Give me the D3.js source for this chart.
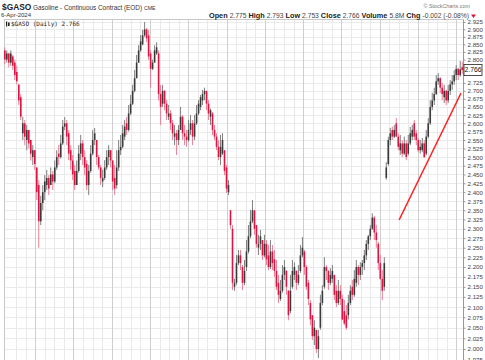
<!DOCTYPE html>
<html><head><meta charset="utf-8">
<script src="https://cdn.jsdelivr.net/npm/d3@7"></script>
<style>body{margin:0;background:#fff}svg{display:block}</style>
</head><body>
<svg id="c" width="485" height="360"></svg>
<script>
const symbol = "$GASO";
const titleText = "Gasoline - Continuous Contract (EOD)";
const exchange = "CME";
const dateText = "6-Apr-2024";
const legendText = "$GASO (Daily) 2.766";
const lastPrice = 2.766;
const quoteLabels = ["Open","High","Low","Close","Volume","Chg"];
const quoteValues = ["2.775","2.793","2.753","2.766","5.8M","-0.002 (-0.08%)"];

const opens = [
2.83,2.80,2.82,2.79,2.81,2.79,2.76,2.72,2.68,2.57,
2.60,2.55,2.58,2.55,2.50,2.52,2.47,2.42,2.32,2.37,
2.40,2.42,2.44,2.42,2.45,2.43,2.47,2.51,2.50,2.54,
2.59,2.60,2.57,2.52,2.49,2.46,2.42,2.46,2.51,2.54,
2.50,2.48,2.42,2.46,2.51,2.55,2.55,2.50,2.47,2.43,
2.44,2.47,2.50,2.52,2.49,2.44,2.42,2.47,2.52,2.53,
2.56,2.60,2.58,2.63,2.66,2.70,2.74,2.79,2.83,2.85,
2.88,2.90,2.88,2.82,2.77,2.79,2.82,2.82,2.69,2.66,
2.70,2.66,2.62,2.63,2.60,2.56,2.57,2.55,2.58,2.62,
2.57,2.56,2.55,2.58,2.60,2.56,2.60,2.63,2.65,2.67,
2.69,2.70,2.66,2.62,2.63,2.58,2.56,2.53,2.50,2.51,
2.52,2.47,2.40,2.35,2.30,2.15,2.16,2.21,2.23,2.20,
2.16,2.20,2.24,2.28,2.32,2.35,2.31,2.25,2.26,2.27,
2.23,2.26,2.23,2.20,2.24,2.22,2.19,2.16,2.12,2.14,
2.18,2.19,2.14,2.09,2.15,2.18,2.19,2.16,2.19,2.23,
2.24,2.20,2.16,2.11,2.08,2.03,2.045,2.00,2.05,2.11,
2.15,2.20,2.19,2.16,2.17,2.18,2.14,2.11,2.14,2.12,
2.09,2.08,2.08,2.11,2.15,2.13,2.16,2.20,2.18,2.20,
2.21,2.23,2.26,2.28,2.30,2.33,2.29,2.26,2.21,2.17,
2.15,2.44,2.48,2.55,2.58,2.56,2.60,2.56,2.52,2.54,
2.51,2.54,2.51,2.54,2.56,2.60,2.57,2.55,2.52,2.52,
2.54,2.51,2.56,2.60,2.65,2.67,2.69,2.73,2.74,2.71,
2.68,2.70,2.67,2.70,2.72,2.73,2.75,2.77,2.75,2.775];

const highs = [
2.84,2.83,2.82,2.83,2.815,2.80,2.78,2.72,2.69,2.62,
2.61,2.595,2.58,2.55,2.535,2.52,2.47,2.434,2.39,2.42,
2.448,2.463,2.448,2.47,2.46,2.49,2.52,2.535,2.565,2.61,
2.619,2.61,2.58,2.535,2.506,2.477,2.49,2.535,2.565,2.55,
2.52,2.491,2.477,2.535,2.58,2.586,2.55,2.506,2.477,2.463,
2.491,2.52,2.535,2.52,2.491,2.477,2.52,2.55,2.565,2.595,
2.61,2.619,2.656,2.687,2.719,2.766,2.815,2.847,2.881,2.898,
2.925,2.905,2.898,2.831,2.80,2.847,2.857,2.83,2.719,2.719,
2.703,2.671,2.656,2.64,2.61,2.595,2.58,2.595,2.65,2.625,
2.595,2.58,2.61,2.625,2.61,2.625,2.656,2.671,2.687,2.703,
2.71,2.70,2.671,2.645,2.635,2.595,2.57,2.55,2.565,2.57,
2.52,2.477,2.434,2.351,2.31,2.17,2.231,2.244,2.244,2.205,
2.218,2.27,2.31,2.351,2.378,2.351,2.31,2.284,2.297,2.27,
2.284,2.27,2.257,2.27,2.257,2.244,2.218,2.18,2.167,2.205,
2.218,2.192,2.142,2.18,2.218,2.212,2.192,2.205,2.257,2.278,
2.244,2.205,2.167,2.117,2.08,2.068,2.045,2.045,2.13,2.154,
2.225,2.205,2.192,2.197,2.205,2.18,2.154,2.167,2.154,2.13,
2.117,2.105,2.13,2.154,2.167,2.192,2.218,2.205,2.212,2.218,
2.244,2.27,2.284,2.31,2.342,2.335,2.31,2.265,2.231,2.192,
2.225,2.485,2.56,2.586,2.59,2.595,2.616,2.57,2.565,2.55,
2.56,2.55,2.565,2.589,2.595,2.61,2.58,2.556,2.55,2.556,
2.55,2.58,2.616,2.671,2.694,2.71,2.75,2.756,2.743,2.725,
2.719,2.703,2.719,2.734,2.75,2.766,2.782,2.772,2.795,2.793];

const lows = [
2.785,2.79,2.775,2.78,2.766,2.734,2.72,2.656,2.61,2.55,
2.535,2.52,2.525,2.49,2.477,2.463,2.378,2.25,2.31,2.35,
2.378,2.406,2.392,2.42,2.406,2.425,2.463,2.477,2.495,2.535,
2.58,2.535,2.491,2.463,2.434,2.406,2.42,2.455,2.491,2.477,
2.448,2.406,2.392,2.455,2.505,2.535,2.477,2.463,2.42,2.414,
2.434,2.463,2.477,2.47,2.406,2.392,2.41,2.46,2.506,2.525,
2.55,2.565,2.575,2.625,2.656,2.695,2.74,2.79,2.825,2.847,
2.875,2.857,2.799,2.71,2.766,2.79,2.815,2.67,2.595,2.65,
2.64,2.61,2.61,2.58,2.55,2.535,2.506,2.535,2.58,2.55,
2.535,2.53,2.545,2.565,2.535,2.55,2.595,2.625,2.64,2.656,
2.671,2.64,2.61,2.595,2.565,2.55,2.52,2.491,2.477,2.506,
2.448,2.398,2.392,2.30,2.142,2.14,2.155,2.205,2.192,2.142,
2.154,2.19,2.235,2.275,2.315,2.284,2.25,2.231,2.244,2.218,
2.225,2.205,2.192,2.195,2.192,2.175,2.142,2.11,2.115,2.135,
2.167,2.13,2.068,2.085,2.145,2.167,2.142,2.154,2.185,2.225,
2.18,2.142,2.105,2.056,2.021,2.009,1.991,1.979,2.045,2.105,
2.145,2.167,2.142,2.154,2.16,2.117,2.10,2.105,2.105,2.068,
2.056,2.045,2.07,2.105,2.117,2.125,2.15,2.154,2.167,2.18,
2.192,2.218,2.244,2.27,2.297,2.27,2.25,2.192,2.167,2.117,
2.14,2.435,2.475,2.535,2.55,2.556,2.56,2.52,2.506,2.50,
2.506,2.491,2.505,2.535,2.55,2.55,2.535,2.514,2.51,2.514,
2.497,2.505,2.555,2.595,2.64,2.656,2.687,2.719,2.693,2.671,
2.662,2.656,2.662,2.687,2.703,2.719,2.734,2.734,2.745,2.753];

const closes = [
2.80,2.82,2.79,2.82,2.78,2.75,2.73,2.67,2.62,2.60,
2.56,2.58,2.54,2.51,2.52,2.48,2.40,2.32,2.37,2.40,
2.43,2.44,2.41,2.45,2.43,2.47,2.50,2.50,2.54,2.59,
2.60,2.56,2.51,2.49,2.45,2.42,2.46,2.51,2.54,2.50,
2.47,2.42,2.46,2.51,2.55,2.57,2.50,2.47,2.44,2.44,
2.47,2.50,2.52,2.49,2.43,2.41,2.47,2.52,2.53,2.57,
2.59,2.58,2.63,2.66,2.70,2.74,2.79,2.83,2.86,2.88,
2.90,2.87,2.81,2.77,2.79,2.83,2.84,2.69,2.65,2.70,
2.66,2.63,2.63,2.60,2.57,2.57,2.55,2.58,2.62,2.57,
2.56,2.55,2.58,2.60,2.56,2.60,2.63,2.66,2.68,2.69,
2.70,2.66,2.63,2.64,2.58,2.56,2.53,2.50,2.53,2.55,
2.46,2.41,2.42,2.31,2.16,2.16,2.21,2.23,2.21,2.16,
2.19,2.24,2.28,2.32,2.35,2.30,2.26,2.26,2.28,2.23,
2.26,2.22,2.20,2.24,2.21,2.19,2.15,2.13,2.14,2.18,
2.20,2.15,2.08,2.14,2.19,2.20,2.16,2.18,2.23,2.25,
2.20,2.15,2.12,2.07,2.03,2.05,2.00,2.03,2.11,2.14,
2.20,2.19,2.16,2.18,2.19,2.13,2.11,2.14,2.12,2.07,
2.06,2.05,2.11,2.14,2.13,2.17,2.20,2.18,2.20,2.21,
2.23,2.26,2.28,2.30,2.33,2.29,2.27,2.21,2.17,2.14,
2.21,2.47,2.55,2.57,2.56,2.58,2.56,2.53,2.54,2.51,
2.54,2.50,2.54,2.57,2.58,2.56,2.55,2.52,2.53,2.54,
2.50,2.56,2.60,2.65,2.67,2.69,2.73,2.74,2.71,2.69,
2.70,2.67,2.70,2.72,2.73,2.75,2.77,2.75,2.768,2.766];

const yTicks = [2.925,2.900,2.875,2.850,2.825,2.800,2.775,2.750,2.725,2.700,2.675,2.650,2.625,2.600,
2.575,2.550,2.525,2.500,2.475,2.450,2.425,2.400,2.375,2.350,2.325,2.300,2.275,2.250,2.225,2.200,
2.175,2.150,2.125,2.100,2.075,2.050,2.025,2.000,1.975];

// annotation trend line (candle index, price)
const trendIdx = [197.5, 228.5];
const trendPrice = [2.324, 2.693];

const N = closes.length;
const svg = d3.select("#c");
const L = 4, R = 463, T = 19.5, B = 360;
const x = d3.scaleBand().domain(d3.range(N)).range([L, R]).paddingInner(0.2);
const xc = i => x(i) + x.bandwidth()/2;
const xLin = d3.scaleLinear().domain([-0.5, N-0.5]).range([L, R]);
const y = d3.scaleLog().domain([2.0, 2.925]).range([349, 22]);

const fontS = "'Liberation Sans', Arial, sans-serif";

// grid
const g = svg.append("g");
g.selectAll("line.h").data(yTicks).join("line")
  .attr("x1", L).attr("x2", R).attr("y1", d => Math.round(y(d))+0.5).attr("y2", d => Math.round(y(d))+0.5)
  .attr("stroke", "#ebebeb").attr("stroke-width", 1);

const weekStep = 9.57, weekStart = 16;
const weeks = d3.range(0, 47).map(k => ({k, px: weekStart + k*weekStep})).filter(d => d.px < R);
g.selectAll("line.v").data(weeks).join("line")
  .attr("x1", d => Math.round(d.px)+0.5).attr("x2", d => Math.round(d.px)+0.5)
  .attr("y1", T).attr("y2", B)
  .attr("stroke", d => d.k % 4 === 2 ? "#cfcfcf" : "#e9e9e9").attr("stroke-width", 1);

g.append("line").attr("x1", L+0.5).attr("x2", L+0.5).attr("y1", T).attr("y2", B).attr("stroke", "#c8c8c8");
g.append("line").attr("x1", L).attr("x2", R).attr("y1", T).attr("y2", T).attr("stroke", "#c8c8c8");

// axis (the label under the last-price box is covered in the reference)
const axis = d3.axisRight(y).tickValues(yTicks).tickFormat(d3.format(".3f")).tickSize(2).tickPadding(2);
const ag = svg.append("g").attr("transform", `translate(${R+0.5},0)`).call(axis);
ag.select(".domain").attr("stroke", "#999").attr("d", `M0,${T}V${B}`);
ag.selectAll(".tick line").attr("stroke", "#999");
ag.selectAll(".tick text").attr("font-family", fontS).attr("font-size", 6.2).attr("fill", "#444");
ag.selectAll(".tick").filter(d => Math.abs(y(d) - y(lastPrice)) < 6).select("text").remove();

// candles
const data = d3.range(N).map(i => ({i, o: opens[i], h: highs[i], l: lows[i], c: closes[i]}));
const col = d => d.c < d.o ? "#dc1442" : "#3a3a3a";
const cg = svg.append("g");
cg.selectAll("line.w").data(data).join("line")
  .attr("x1", d => xc(d.i)).attr("x2", d => xc(d.i))
  .attr("y1", d => y(Math.max(d.h, d.o, d.c))).attr("y2", d => y(Math.min(d.l, d.o, d.c)))
  .attr("stroke", d => d.c < d.o ? "#e8708a" : "#707070").attr("stroke-width", 0.9);
cg.selectAll("rect.b").data(data).join("rect")
  .attr("x", d => x(d.i)).attr("width", x.bandwidth())
  .attr("y", d => y(Math.max(d.o, d.c)))
  .attr("height", d => Math.max(0.8, Math.abs(y(d.o) - y(d.c))))
  .attr("fill", col);

// trend line
svg.append("line")
  .attr("x1", xLin(trendIdx[0])).attr("y1", y(trendPrice[0]))
  .attr("x2", xLin(trendIdx[1])).attr("y2", y(trendPrice[1]))
  .attr("stroke", "#ff2020").attr("stroke-width", 1.4);

// last price box
const bx = svg.append("g").attr("transform", `translate(${R+1},${y(lastPrice)})`);
bx.append("rect").attr("x", 0).attr("y", -5.5).attr("width", 18).attr("height", 11)
  .attr("fill", "#fff").attr("stroke", "#222").attr("stroke-width", 0.8);
bx.append("text").attr("x", 9).attr("y", 2.4).attr("text-anchor", "middle")
  .attr("font-family", fontS).attr("font-size", 6.8).attr("fill", "#111").text(d3.format(".3f")(lastPrice));

// legend inside plot
const lg = svg.append("g").attr("transform", "translate(6,26)");
lg.append("rect").attr("x", 0).attr("y", -4.5).attr("width", 1.2).attr("height", 5).attr("fill", "#222");
lg.append("rect").attr("x", 2).attr("y", -3.5).attr("width", 1.6).attr("height", 3.5).attr("fill", "#222");
lg.append("text").attr("x", 5).attr("y", 0).attr("font-family", "'DejaVu Sans Mono', 'Liberation Mono', monospace")
  .attr("font-size", 6).attr("fill", "#222").text(legendText);

// header
svg.append("text").attr("x", 2).attr("y", 10).attr("font-family", fontS).attr("font-weight", "bold")
  .attr("font-size", 8.4).attr("fill", "#222").text(symbol);
svg.append("text").attr("x", 33).attr("y", 10).attr("font-family", fontS)
  .attr("font-size", 6.4).attr("fill", "#333").text(titleText);
svg.append("text").attr("x", 144).attr("y", 10).attr("font-family", fontS)
  .attr("font-size", 5.2).attr("fill", "#333").text(exchange);
svg.append("text").attr("x", 1).attr("y", 17).attr("font-family", fontS)
  .attr("font-size", 6).attr("fill", "#333").text(dateText);
svg.append("text").attr("x", 470).attr("y", 8).attr("text-anchor", "end").attr("font-family", fontS)
  .attr("font-size", 5.4).attr("fill", "#777").text("© StockCharts.com");

const qt = svg.append("text").attr("x", 469).attr("y", 17.5).attr("text-anchor", "end")
  .attr("font-family", fontS).attr("fill", "#222");
quoteLabels.forEach((lab, k) => {
  qt.append("tspan").attr("font-weight", "bold").attr("font-size", 7.3).text((k ? " " : "") + lab + " ");
  qt.append("tspan").attr("font-size", 6.7).attr("fill", "#444").text(quoteValues[k]);
});
svg.append("path").attr("d", "M471,14.5 L476,14.5 L473.5,18 Z").attr("fill", "#dc1442");
</script>
</body></html>
